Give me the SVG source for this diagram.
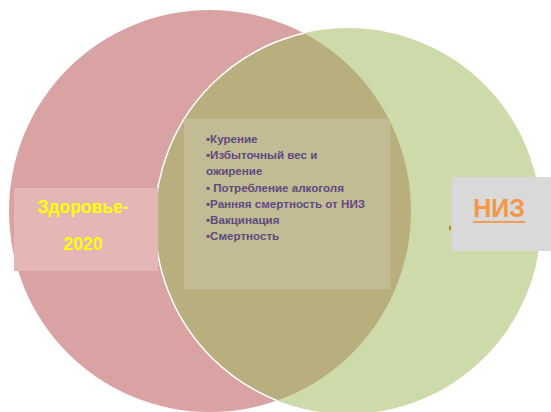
<svg xmlns="http://www.w3.org/2000/svg" width="551" height="412" viewBox="0 0 551 412">
<style>
.item{font-family:"Liberation Sans",Arial,sans-serif;font-weight:bold;font-size:11.6px;fill:#5e4a80}
.lbl{font-family:"Liberation Sans",Arial,sans-serif;font-weight:bold;text-anchor:middle}
</style>
<defs>
<clipPath id="pinkClip"><circle cx="210" cy="211" r="201"/></clipPath>
</defs>
<rect width="551" height="412" fill="#ffffff"/>
<g id="health2020-circle">
<circle cx="210" cy="211" r="201" fill="#d9a3a3"/>
</g>
<g id="niz-circle">
<circle cx="348" cy="221" r="193" fill="#cddaa9"/>
<circle cx="348" cy="221" r="193" fill="#b9ae7e" clip-path="url(#pinkClip)"/>
<circle cx="348" cy="221" r="193" fill="none" stroke="#ffffff" stroke-width="1.5" clip-path="url(#pinkClip)"/>
</g>
<g id="overlap-box">
<rect x="184" y="119" width="206" height="170" fill="#c2bc94"/>
<text class="item" x="206" y="143">•Курение</text>
<text class="item" x="206" y="159">•Избыточный вес и</text>
<text class="item" x="206" y="175">ожирение</text>
<text class="item" x="206" y="192">• Потребление алкоголя</text>
<text class="item" x="206" y="208">•Ранняя смертность от НИЗ</text>
<text class="item" x="206" y="224">•Вакцинация</text>
<text class="item" x="206" y="240">•Смертность</text>
</g>
<g id="health2020-label">
<rect x="14" y="188" width="144" height="83" fill="#e4b6b6"/>
<text class="lbl" x="83" y="213" font-size="17.5" fill="#ffff00">Здоровье-</text>
<text class="lbl" x="83" y="250" font-size="17.5" fill="#ffff00">2020</text>
</g>
<g id="niz-label">
<rect x="449" y="226" width="2" height="4" fill="#e07b2a"/>
<rect x="452" y="177" width="99" height="74" fill="#d9d9d9"/>
<text class="lbl" x="499" y="217" font-size="25" fill="#f79646">НИЗ</text>
<rect x="473" y="221" width="52" height="1.8" fill="#f79646"/>
</g>
<g id="connectors"></g>
</svg>
